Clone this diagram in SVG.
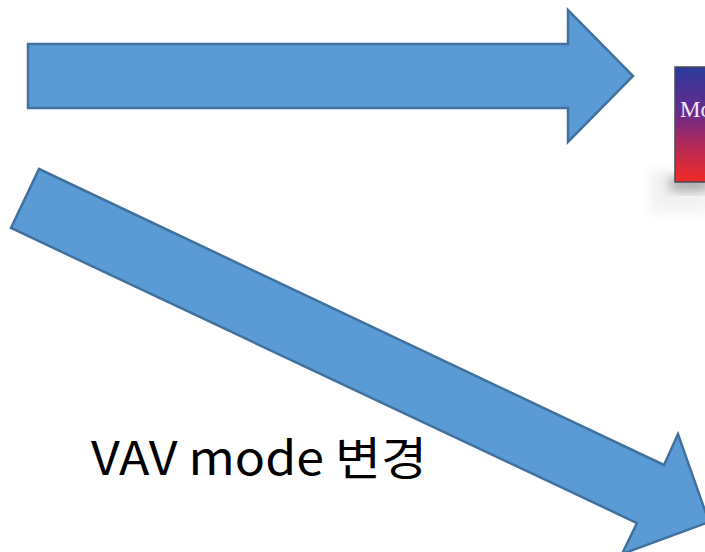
<svg xmlns="http://www.w3.org/2000/svg" width="705" height="552" viewBox="0 0 705 552">
  <defs>
    <style>
      .arrow { fill: #5B9BD5; stroke: #41719C; stroke-width: 2.5; stroke-linejoin: miter; }
      .label { font-family: "Noto Sans CJK KR", "Noto Sans", sans-serif; font-size: 46px; fill: #000000; }
    </style>
    <linearGradient id="boxGrad" x1="0" y1="0" x2="0" y2="1">
      <stop offset="0" stop-color="#2A3A9C"/>
      <stop offset="0.4" stop-color="#6A2A8A"/>
      <stop offset="0.7" stop-color="#B82A55"/>
      <stop offset="1" stop-color="#F02A24"/>
    </linearGradient>
    <filter id="blur" x="-50%" y="-50%" width="200%" height="200%">
      <feGaussianBlur stdDeviation="6"/>
    </filter>
  </defs>
  <rect width="705" height="552" fill="#ffffff"/>

  <g id="connectors">
    <polygon id="arrow-top" class="arrow" points="28,44 568,44 568,10 633,76 568,142 568,108 28,108"/>
    <polygon id="arrow-diag" class="arrow" points="39,169 664,465 678,434 709,522 622,554 637,523 11,228"/>
  </g>

  <g id="image-node">
    <rect x="650" y="170" width="60" height="42" fill="#e4e4e4" opacity="0.5" filter="url(#blur)"/>
    <rect x="670" y="178" width="40" height="12" fill="#666666" opacity="0.6" filter="url(#blur)"/>
    <rect x="675" y="67" width="40" height="115" fill="url(#boxGrad)" stroke="#4a4a5a" stroke-width="1.5"/>
    <text x="680" y="117" font-family="Liberation Serif, serif" font-size="23" fill="#f2ecf2">Mo</text>
  </g>

  <g id="label-node">
    <text class="label" x="91" y="475" textLength="336" lengthAdjust="spacingAndGlyphs">VAV mode 변경</text>
  </g>
</svg>
